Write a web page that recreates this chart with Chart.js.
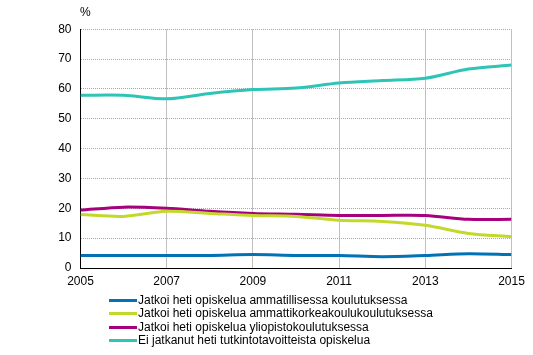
<!DOCTYPE html>
<html><head><meta charset="utf-8">
<script src="https://cdn.jsdelivr.net/npm/chart.js@4/dist/chart.umd.min.js"></script>
<style>
html,body{margin:0;padding:0;background:#fff;}
#wrap{position:relative;width:533px;height:355px;}
canvas{position:absolute;left:0;top:0;}
#unit{position:absolute;left:80px;top:5px;font:12px "Liberation Sans",Arial,sans-serif;color:#000;}
#legend{position:absolute;left:109px;top:294px;font:12px "Liberation Sans",Arial,sans-serif;color:#000;}
.li{height:13.3px;line-height:13.3px;white-space:nowrap;display:flex;align-items:center;}
.sw{display:inline-block;width:28px;height:3px;margin-right:1px;}
</style></head>
<body><div id="wrap"><canvas id="c" width="533" height="355"></canvas><div id="unit">%</div><div id="legend"></div></div>
<script>
const years = [2005,2006,2007,2008,2009,2010,2011,2012,2013,2014,2015];
const seriesNames = [
 "Jatkoi heti opiskelua ammatillisessa koulutuksessa",
 "Jatkoi heti opiskelua ammattikorkeakoulukoulutuksessa",
 "Jatkoi heti opiskelua yliopistokoulutuksessa",
 "Ei jatkanut heti tutkintotavoitteista opiskelua"
];
const ammatillinen = [4.2,4.2,4.2,4.2,4.5,4.2,4.2,3.8,4.2,4.8,4.5];
const amk = [17.9,17.3,19.0,18.3,17.6,17.3,16.0,15.6,14.3,11.6,10.5];
const yliopisto = [19.4,20.4,20.0,19.0,18.3,18.0,17.6,17.6,17.6,16.3,16.3];
const eiJatkanut = [57.9,57.9,56.7,58.5,59.8,60.3,62.0,62.8,63.6,66.7,68.0];
const colors = ["#0072b5","#c3d82b","#a5007e","#2ec4b6"];
const allSeries = [ammatillinen, amk, yliopisto, eiJatkanut];

const datasets = allSeries.map((vals,i)=>({
  label: seriesNames[i],
  data: vals.map((v,j)=>({x:years[j], y:v})),
  borderColor: colors[i],
  backgroundColor: colors[i],
  borderWidth: 3,
  pointRadius: 0,
  tension: 0.3,
  fill:false
}));

const font = {family:'"Liberation Sans", Arial, sans-serif', size:12};
new Chart(document.getElementById('c'), {
  type:'line',
  data:{datasets},
  options:{
    responsive:false, animation:false,
    layout:{padding:{left:0,right:21.5,top:29.3,bottom:67}},
    plugins:{legend:{display:false}, tooltip:{enabled:false}},
    scales:{
      x:{type:'linear', min:2005, max:2015,
         ticks:{stepSize:2, color:'#000', font, padding:6, maxRotation:0, callback:v=>String(v)},
         grid:{color:'#c0c0c0', drawTicks:false, lineWidth:1},
         border:{color:'#000', width:1},
         afterFit:s=>{s.height=20;}},
      y:{min:0, max:80,
         ticks:{stepSize:10, color:'#000', font, padding:9},
         grid:{color:'#a8a8a8', drawTicks:false, lineWidth:1},
         border:{color:'#000', width:1, dash:[1,1]},
         afterFit:s=>{s.width=80.5;}}
    }
  }
});
const lg = document.getElementById('legend');
seriesNames.forEach((n,i)=>{
  const d=document.createElement('div'); d.className='li';
  d.innerHTML='<span class="sw" style="background:'+colors[i]+'"></span><span></span>';
  d.lastChild.textContent=n; lg.appendChild(d);
});
</script></body></html>
